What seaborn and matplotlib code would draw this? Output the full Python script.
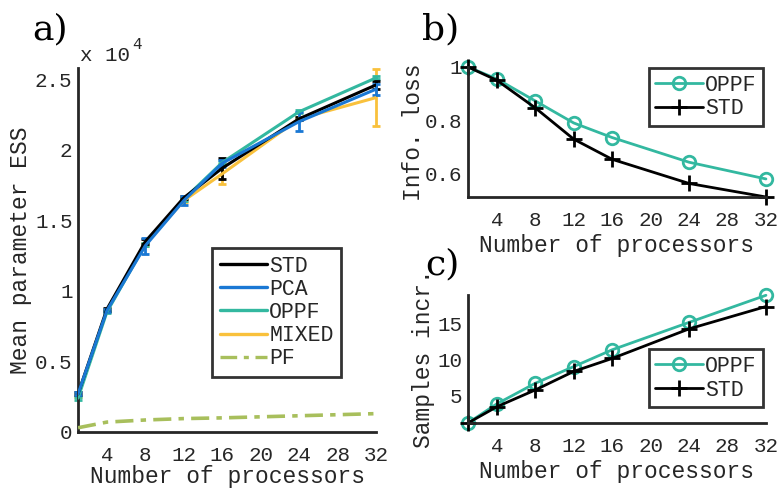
import matplotlib
import pandas as pd
import seaborn as sns

matplotlib.use("Agg")
import matplotlib.pyplot as plt

# number of processors
procs = [1, 4, 8, 12, 16, 24, 32]
x_ticks = [4, 8, 12, 16, 20, 24, 28, 32]

# a) mean parameter ESS, in units of 1e4
ess_std = [0.27, 0.87, 1.35, 1.66, 1.87, 2.22, 2.46]
ess_pca = [0.27, 0.86, 1.32, 1.64, 1.905, 2.20, 2.43]
ess_oppf = [0.24, 0.85, 1.33, 1.65, 1.91, 2.27, 2.51]
ess_mixed = [0.26, 0.86, 1.33, 1.64, 1.83, 2.22, 2.37]
ess_pf = [0.03, 0.07, 0.085, 0.095, 0.10, 0.115, 0.13]

err_std = [0.01, 0.01, 0.02, 0.01, 0.075, 0.01, 0.03]
err_pca = [0.01, 0.01, 0.055, 0.03, 0.025, 0.065, 0.04]
err_oppf = [0.01, 0.01, 0.01, 0.01, 0.01, 0.01, 0.01]
err_mixed = [0.01, 0.01, 0.01, 0.01, 0.07, 0.01, 0.20]

# b) information loss
loss_oppf = [1.0, 0.955, 0.872, 0.789, 0.734, 0.641, 0.578]
loss_std = [1.0, 0.95, 0.846, 0.728, 0.652, 0.561, 0.51]

# c) samples increase
incr_oppf = [1.25, 3.9, 6.76, 9.07, 11.4, 15.2, 18.96]
incr_std = [1.25, 3.5, 5.83, 8.4, 10.2, 14.3, 17.4]

BLACK = "#000000"
BLUE = "#1a78d4"
TEAL = "#33b8a0"
YELLOW = "#f9c13c"
OLIVE = "#a8bf5c"
GRAY = "#262626"
PF_DASH = (0, (5, 2, 1.5, 2))

sns.set_style("white")
plt.rcParams["font.family"] = ["Liberation Mono", "DejaVu Sans Mono"]
plt.rcParams["text.color"] = GRAY
plt.rcParams["axes.labelcolor"] = GRAY

fig = plt.figure(figsize=(7.78, 4.91), dpi=100)
ax_a = fig.add_axes([0.1003, 0.1202, 0.383, 0.7413])
ax_b = fig.add_axes([0.6015, 0.5988, 0.383, 0.2648])
ax_c = fig.add_axes([0.6015, 0.1385, 0.383, 0.2607])


def style_axis(ax, xlabelpad=8):
    for side in ["top", "right"]:
        ax.spines[side].set_visible(False)
    for side in ["left", "bottom"]:
        ax.spines[side].set_color(GRAY)
        ax.spines[side].set_linewidth(2)
    ax.tick_params(direction="in", length=6, width=2, colors=GRAY, labelsize=15)
    ax.tick_params(axis="x", pad=10)
    ax.tick_params(axis="y", pad=4)
    ax.set_xlim(1, 32)
    ax.set_xticks(x_ticks)
    ax.set_xlabel("Number of processors", fontsize=16.5, labelpad=xlabelpad)


def add_legend(ax, loc, anchor):
    leg = ax.legend(loc=loc, bbox_to_anchor=anchor, fontsize=15.5, frameon=True,
                    fancybox=False, borderpad=0.3, labelspacing=0.12,
                    handletextpad=0.1, borderaxespad=0, handlelength=2.2)
    leg.get_frame().set_edgecolor(BLACK)
    leg.get_frame().set_linewidth(2)
    return leg


def marker_lines(ax, oppf_vals, std_vals, col):
    df = pd.DataFrame({"procs": procs * 2, col: oppf_vals + std_vals,
                       "method": ["OPPF"] * 7 + ["STD"] * 7})
    for name, color, marker, size in [("OPPF", TEAL, "o", 9), ("STD", BLACK, "+", 12)]:
        sns.lineplot(data=df[df["method"] == name], x="procs", y=col,
                     color=color, marker=marker, markersize=size,
                     markerfacecolor="none", markeredgecolor=color,
                     markeredgewidth=2, linewidth=2, label=name, ax=ax,
                     clip_on=False)


# ---- panel a ----
ess = pd.DataFrame({
    "procs": procs * 5,
    "ess": ess_std + ess_pca + ess_oppf + ess_mixed + ess_pf,
    "method": ["STD"] * 7 + ["PCA"] * 7 + ["OPPF"] * 7 + ["MIXED"] * 7 + ["PF"] * 7,
})
palette_a = {"STD": BLACK, "PCA": BLUE, "OPPF": TEAL, "MIXED": YELLOW, "PF": OLIVE}
draw_order = [("MIXED", err_mixed, ess_mixed), ("OPPF", err_oppf, ess_oppf),
              ("STD", err_std, ess_std), ("PCA", err_pca, ess_pca)]
for name, err, vals in draw_order:
    eb = ax_a.errorbar(procs, vals, yerr=err, fmt="none", ecolor=palette_a[name],
                       elinewidth=2, capsize=3, capthick=2, zorder=2)
    for artist in eb.lines[1] + eb.lines[2]:
        artist.set_clip_on(False)
sns.lineplot(data=ess, x="procs", y="ess", hue="method", palette=palette_a,
             hue_order=["MIXED", "OPPF", "STD", "PCA", "PF"], linewidth=2.2,
             ax=ax_a, legend=False, zorder=3)
ax_a.lines[-1].set_linestyle(PF_DASH)
ax_a.lines[-1].set_linewidth(2.6)
style_axis(ax_a, xlabelpad=0)
ax_a.set_ylim(0, 2.58)
ax_a.set_yticks([0, 0.5, 1, 1.5, 2, 2.5])
ax_a.set_yticklabels(["0", "0.5", "1", "1.5", "2", "2.5"])
ax_a.set_ylabel("Mean parameter ESS", fontsize=16.5, labelpad=2)
names_a = ["STD", "PCA", "OPPF", "MIXED", "PF"]
handles = [plt.Line2D([], [], color=palette_a[m], lw=2.4,
                      ls=PF_DASH if m == "PF" else "-") for m in names_a]
leg_a = ax_a.legend(handles, names_a, loc="upper left",
                    bbox_to_anchor=(0.45, 0.505), borderaxespad=0,
                    fontsize=15.5, frameon=True, fancybox=False, borderpad=0.35,
                    labelspacing=0.1, handletextpad=0.1, handlelength=2.2)
leg_a.get_frame().set_edgecolor(BLACK)
leg_a.get_frame().set_linewidth(2)
fig.text(0.103, 0.876, "x 10", fontsize=15, color=GRAY, va="baseline")
fig.text(0.170, 0.900, "4", fontsize=11.5, color=GRAY, va="baseline")

# ---- panel b ----
marker_lines(ax_b, loss_oppf, loss_std, "loss")
style_axis(ax_b, xlabelpad=3)
ax_b.set_ylim(0.51, 1.0)
ax_b.set_yticks([0.6, 0.8, 1.0])
ax_b.set_yticklabels(["0.6", "0.8", "1"])
ax_b.set_ylabel("Info. loss", fontsize=16.5, labelpad=0)
add_legend(ax_b, "upper right", (0.99, 0.99))

# ---- panel c ----
marker_lines(ax_c, incr_oppf, incr_std, "incr")
style_axis(ax_c, xlabelpad=3)
ax_c.set_ylim(1.25, 19)
ax_c.set_yticks([5, 10, 15])
ax_c.set_ylabel("Samples incr.", fontsize=16.5, labelpad=2)
add_legend(ax_c, "lower right", (0.99, 0.125))

# panel letters
for x, y, lab in [(0.041, 0.919, "a)"), (0.542, 0.919, "b)"), (0.546, 0.442, "c)")]:
    fig.text(x, y, lab, fontsize=26, family="DejaVu Serif", color=BLACK,
             va="baseline")

fig.savefig("out.png", dpi=100)
